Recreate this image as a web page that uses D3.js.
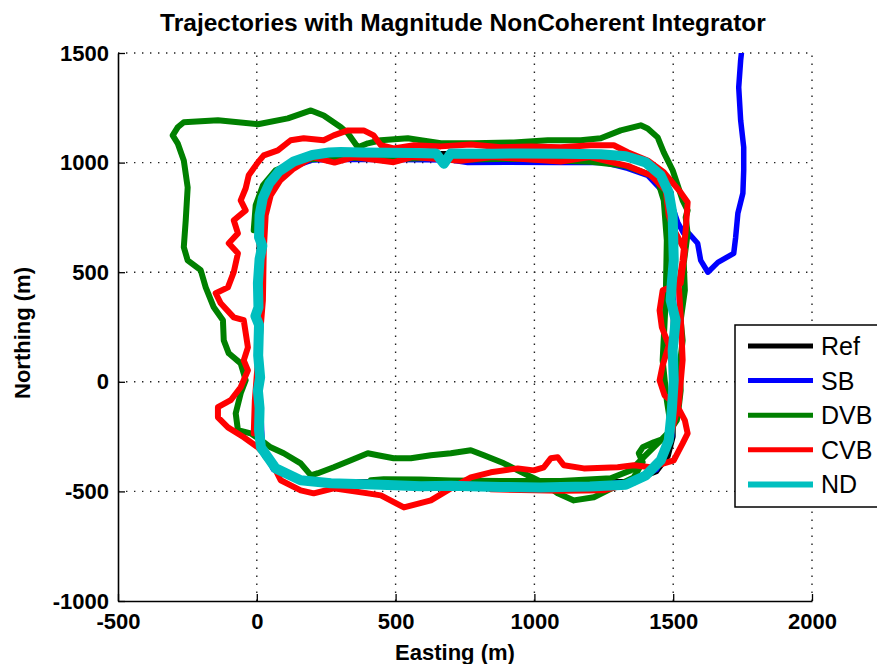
<!DOCTYPE html>
<html>
<head>
<meta charset="utf-8">
<script src="https://cdn.jsdelivr.net/npm/d3@7"></script>
<style>
  html, body { margin: 0; padding: 0; background: #fff; }
  svg { display: block; }
  text { font-family: "Liberation Sans", Arial, Helvetica, sans-serif; }
</style>
</head>
<body>
<svg id="chart" width="877" height="664"></svg>
<script>
// Axis ticks (metres)
const xTicks = [-500, 0, 500, 1000, 1500, 2000];
const yTicks = [-1000, -500, 0, 500, 1000, 1500];

// Series names and colours
const seriesNames = ["Ref", "SB", "DVB", "CVB", "ND"];
const seriesColors = ["#000000", "#0000ff", "#008000", "#ff0000", "#00bfbf"];

// Reference trajectory [easting, northing] in metres
const refPath = [[8,-270],[8,640],[14,760],[28,840],[52,900],[88,955],[140,1000],[205,1030],[265,1042],
  [1250,1042],[1330,1030],[1400,1000],[1452,945],[1482,866],[1497,760],[1500,600],[1500,-250],[1482,-340],
  [1440,-410],[1350,-455],[160,-455],[75,-410],[28,-340],[8,-270]];

// SB solution
const sbPath = [[1500,650],[1502,300],[1498,0],[1495,-250],[1440,-400],[1330,-462],[1100,-470],[700,-468],
  [300,-465],[150,-450],[60,-400],[20,-300],[10,0],[12,300],[8,560],[22,660],[14,770],[35,860],[75,930],
  [140,985],[200,1012],[300,1015],[500,1014],[700,1012],[760,1000],[900,1002],[1100,1000],[1250,1001],
  [1336,974],[1408,942],[1466,864],[1491,819],[1498,796],[1516,728],[1538,677],[1556,677],[1588,632],
  [1599,554],[1625,500],[1661,545],[1718,586],[1725,659],[1733,769],[1751,860],[1754,965],[1754,1070],
  [1743,1193],[1736,1343],[1743,1467],[1751,1560]];

// DVB solution
const dvbPath = [[-11,691],[-4,805],[22,896],[68,965],[158,1012],[285,1022],[519,1018],[650,1022],[771,1014],
  [951,1018],[1095,1008],[1203,1004],[1329,985],[1412,947],[1444,919],[1466,828],[1477,646],[1473,372],
  [1462,98],[1477,-84],[1491,-198],[1480,-253],[1430,-276],[1390,-299],[1376,-326],[1390,-367],[1358,-436],
  [1300,-472],[1214,-527],[1142,-541],[1084,-509],[1034,-463],[998,-440],[940,-404],[890,-372],[818,-335],
  [771,-312],[699,-326],[627,-335],[555,-349],[493,-349],[436,-335],[400,-326],[339,-358],[277,-390],
  [220,-417],[195,-427],[158,-372],[97,-326],[50,-299],[25,-276],[-22,-235],[-68,-221],[-76,-144],[-58,-52],
  [-40,7],[-58,84],[-101,130],[-119,189],[-122,281],[-155,340],[-184,431],[-202,509],[-249,554],[-263,614],
  [-256,737],[-249,887],[-263,1010],[-285,1088],[-303,1124],[-285,1161],[-263,1184],[-140,1193],[4,1175],
  [112,1202],[195,1238],[241,1215],[303,1161],[328,1134],[364,1070],[400,1088],[447,1102],[544,1111],
  [591,1102],[663,1088],[782,1088],[926,1092],[1048,1102],[1167,1102],[1239,1111],[1311,1147],[1383,1170],
  [1408,1156],[1444,1115],[1466,1047],[1498,965],[1534,828],[1552,782],[1545,750],[1552,677],[1538,541],
  [1542,417],[1527,281],[1534,189],[1523,66],[1527,-39],[1520,-116],[1513,-176],[1484,-230],[1455,-267],
  [1401,-335],[1347,-404],[1275,-440],[1095,-452],[879,-452],[699,-450],[591,-446],[457,-445],[411,-449]];

// CVB solution
const cvbPath = [[-11,-235],[-7,-84],[7,144],[22,372],[25,600],[32,760],[50,850],[85,920],[130,970],
  [200,1025],[280,1000],[350,1025],[493,1002],[560,1025],[735,1008],[850,1025],[1095,1005],[1200,1025],
  [1336,985],[1419,942],[1473,873],[1484,759],[1500,700],[1542,600],[1538,554],[1527,449],[1462,417],
  [1451,326],[1459,249],[1484,167],[1462,75],[1451,7],[1469,-62],[1513,-107],[1542,-176],[1552,-235],
  [1534,-281],[1502,-358],[1419,-390],[1358,-381],[1300,-390],[1178,-395],[1106,-381],[1084,-344],
  [1059,-349],[1034,-390],[998,-404],[940,-395],[843,-413],[771,-436],[699,-486],[627,-541],[530,-573],
  [447,-518],[400,-509],[277,-486],[205,-509],[158,-495],[86,-449],[50,-358],[4,-299],[-47,-253],
  [-104,-208],[-140,-162],[-140,-116],[-94,-84],[-58,-25],[-32,52],[-47,98],[-32,157],[-47,281],[-83,294],
  [-130,358],[-148,404],[-104,431],[-83,500],[-68,586],[-101,632],[-68,677],[-83,737],[-40,782],[-58,828],
  [-40,883],[-29,942],[4,1001],[25,1033],[76,1056],[122,1102],[169,1111],[241,1102],[277,1124],[328,1147],
  [385,1147],[421,1124],[447,1079],[493,1065],[566,1079],[663,1074],[771,1083],[879,1070],[987,1074],
  [1095,1070],[1203,1079],[1286,1079],[1336,1047],[1408,1010],[1466,956],[1527,864],[1552,819],[1545,691],
  [1534,554],[1520,440],[1527,300],[1534,100],[1520,-100],[1480,-300],[1430,-400],[1358,-460],[1250,-495],
  [1100,-497],[950,-494],[843,-490]];

// ND solution
const ndPath = [[15,-300],[8,-220],[10,-120],[4,-40],[12,20],[5,120],[8,260],[-5,300],[6,340],[4,450],
  [10,560],[20,620],[8,660],[10,760],[22,840],[45,905],[80,960],[133,1005],[200,1035],[260,1046],[303,1048],
  [375,1046],[560,1044],[645,1042],[674,995],[699,1042],[850,1040],[951,1042],[1100,1040],[1239,1038],
  [1329,1029],[1401,1001],[1455,942],[1484,864],[1498,759],[1502,554],[1495,450],[1491,372],[1509,281],
  [1498,144],[1502,7],[1495,-130],[1484,-267],[1455,-358],[1401,-427],[1329,-470],[1200,-478],[1095,-480],
  [1023,-482],[879,-480],[800,-478],[699,-474],[591,-476],[447,-470],[267,-463],[158,-449],[68,-395],
  [22,-312],[15,-300]];

const seriesData = [refPath, sbPath, dvbPath, cvbPath, ndPath];
const seriesWidths = [5, 5.5, 6, 6, 10];

const svg = d3.select("#chart");
const plot = { left: 118, right: 812, top: 53, bottom: 601 };

const x = d3.scaleLinear().domain([-500, 2000]).range([plot.left, plot.right]);
const y = d3.scaleLinear().domain([-1000, 1500]).range([plot.bottom, plot.top]);

// Dotted grid
const grid = svg.append("g").attr("stroke", "#222").attr("stroke-width", 1.4)
  .attr("stroke-dasharray", "1.4,6.6");
xTicks.slice(1).forEach(t => {
  grid.append("line").attr("x1", x(t)).attr("x2", x(t)).attr("y1", plot.bottom).attr("y2", plot.top);
});
yTicks.slice(1).forEach(t => {
  grid.append("line").attr("x1", plot.left).attr("x2", plot.right).attr("y1", y(t)).attr("y2", y(t));
});

// Trajectories, clipped to the axes box
svg.append("defs").append("clipPath").attr("id", "plotClip")
  .append("rect").attr("x", plot.left).attr("y", plot.top)
  .attr("width", plot.right - plot.left).attr("height", plot.bottom - plot.top);

const line = d3.line().x(d => x(d[0])).y(d => y(d[1]));
const traj = svg.append("g").attr("clip-path", "url(#plotClip)");
seriesData.forEach((pts, i) => {
  traj.append("path").datum(pts)
    .attr("d", line)
    .attr("fill", "none")
    .attr("stroke", seriesColors[i])
    .attr("stroke-width", seriesWidths[i])
    .attr("stroke-linejoin", "round")
    .attr("stroke-linecap", "round");
});

// Axes with inward ticks
const fmt = d => d3.format("d")(d).replace("\u2212", "-");
const xAxis = d3.axisBottom(x).tickValues(xTicks).tickSizeInner(-7).tickSizeOuter(0).tickPadding(12)
  .tickFormat(fmt);
const yAxis = d3.axisLeft(y).tickValues(yTicks).tickSizeInner(-7).tickSizeOuter(0).tickPadding(9)
  .tickFormat(fmt);

const gx = svg.append("g").attr("transform", `translate(0,${plot.bottom})`).call(xAxis);
const gy = svg.append("g").attr("transform", `translate(${plot.left},0)`).call(yAxis);
[gx, gy].forEach(g => {
  g.selectAll("path.domain").attr("stroke", "#000").attr("stroke-width", 1.6);
  g.selectAll(".tick line").attr("stroke", "#000").attr("stroke-width", 1.3);
  g.selectAll(".tick text").attr("fill", "#000").attr("font-size", 22).attr("font-weight", "bold")
    .attr("font-family", "'Liberation Sans', Arial, sans-serif");
});

// Title and axis labels
svg.append("text").attr("x", 463).attr("y", 31).attr("text-anchor", "middle")
  .attr("font-size", 24.5).attr("font-weight", "bold")
  .text("Trajectories with Magnitude NonCoherent Integrator");
svg.append("text").attr("x", 455).attr("y", 660).attr("text-anchor", "middle")
  .attr("font-size", 22).attr("font-weight", "bold").text("Easting (m)");
svg.append("text").attr("transform", "translate(30,333) rotate(-90)").attr("text-anchor", "middle")
  .attr("font-size", 22).attr("font-weight", "bold").text("Northing (m)");

// Legend
const legend = svg.append("g");
legend.append("rect").attr("x", 735).attr("y", 325).attr("width", 170).attr("height", 182)
  .attr("fill", "#fff").attr("stroke", "#000").attr("stroke-width", 1.5);
seriesNames.forEach((name, i) => {
  const ly = 346 + i * 34.6;
  legend.append("line").attr("x1", 748).attr("x2", 813).attr("y1", ly).attr("y2", ly)
    .attr("stroke", seriesColors[i]).attr("stroke-width", i === 4 ? 6 : 5);
  legend.append("text").attr("x", 821).attr("y", ly + 9).attr("font-size", 25).text(name);
});
</script>
</body>
</html>
